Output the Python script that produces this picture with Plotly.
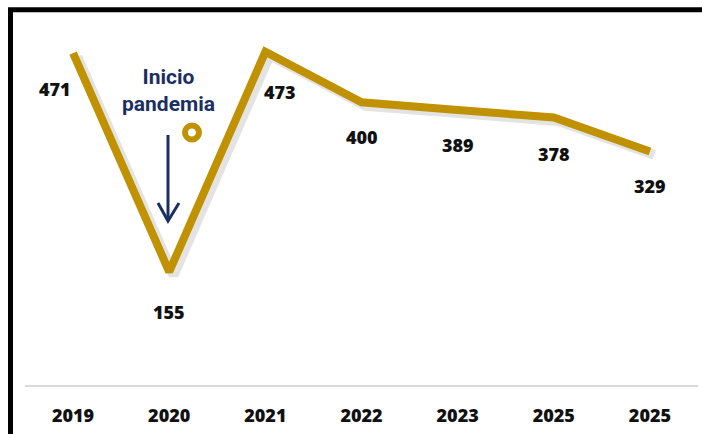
import plotly.graph_objects as go

# ---- data ----
years = ["2019", "2020", "2021", "2022", "2023", "2025", "2025"]
values = [471, 155, 473, 400, 389, 378, 329]
positions = list(range(len(years)))

# label offsets (px) for each data label
label_dx = [-18, 0, 15, 0, 0, 0, 0]
label_dy = [-36, -40, -40, -35, -35, -36, -35]

GOLD = "#C09100"
NAVY = "#1B2F63"

W, H = 702, 434
ML, MT = 25, 20
MR = W - 698
MB = H - 385
PW, PH = W - ML - MR, H - MT - MB


def px(x):
    return (x - ML) / PW


def py(y):
    return (MT + PH - y) / PH


fig = go.Figure()

# soft shadow of the line
fig.add_trace(go.Scatter(
    x=[p + 0.045 for p in positions], y=[v - 5 for v in values],
    mode="lines", line=dict(color="rgba(0,0,0,0.11)", width=10),
    hoverinfo="skip", showlegend=False))

fig.add_trace(go.Scatter(
    x=positions, y=values, mode="lines",
    line=dict(color=GOLD, width=8), showlegend=False))

font_lbl = dict(family="Open Sans, Liberation Sans, sans-serif", size=18, color="#111111", weight=800)
for p, v, dx, dy in zip(positions, values, label_dx, label_dy):
    fig.add_annotation(x=p, y=v, text="%d" % v, showarrow=False,
                       xshift=dx, yshift=dy, font=font_lbl)

# "Inicio pandemia" text
fig.add_annotation(xref="paper", yref="paper", x=px(168), y=py(90),
                   text="<b>Inicio<br>pandemia</b>", showarrow=False,
                   font=dict(family="Roboto, sans-serif", size=21, color=NAVY),
                   xanchor="center", yanchor="middle")

shapes = []
# arrow
shapes.append(dict(type="line", xref="paper", yref="paper",
                   x0=px(168), y0=py(135), x1=px(168), y1=py(220),
                   line=dict(color=NAVY, width=3)))
shapes.append(dict(type="path", xref="paper", yref="paper",
                   path="M %f,%f L %f,%f L %f,%f" % (px(158), py(203), px(168), py(221), px(179), py(203)),
                   line=dict(color=NAVY, width=3)))
# decorative ring marker
shapes.append(dict(type="circle", xref="paper", yref="paper",
                   x0=px(185), x1=px(199), y0=py(125.5), y1=py(139.5),
                   line=dict(color=GOLD, width=6), fillcolor="white"))
# black border frame (left and top sides visible)
shapes.append(dict(type="path", xref="paper", yref="paper",
                   path="M %f,%f L %f,%f L %f,%f" % (px(10.5), py(460), px(10.5), py(9.8), px(760), py(9.8)),
                   line=dict(color="black", width=5)))

fig.update_layout(
    width=W, height=H,
    margin=dict(l=ML, r=MR, t=MT, b=MB),
    paper_bgcolor="white", plot_bgcolor="white",
    shapes=shapes,
    xaxis=dict(range=[-0.5, len(years) - 0.5], tickmode="array",
               tickvals=positions, ticktext=years,
               showgrid=False, zeroline=False, showline=True,
               linecolor="#D9D9D9", linewidth=2,
               ticks="outside", ticklen=13, tickcolor="rgba(0,0,0,0)",
               tickfont=dict(family="Open Sans, Liberation Sans, sans-serif", size=18,
                             color="#111111", weight=800)),
    yaxis=dict(range=[-8.7, 519], visible=False, showgrid=False, zeroline=False),
)

fig.write_html("out.html", config={"displayModeBar": False},
               post_script="document.body.style.margin='0';document.body.style.overflow='hidden';")
